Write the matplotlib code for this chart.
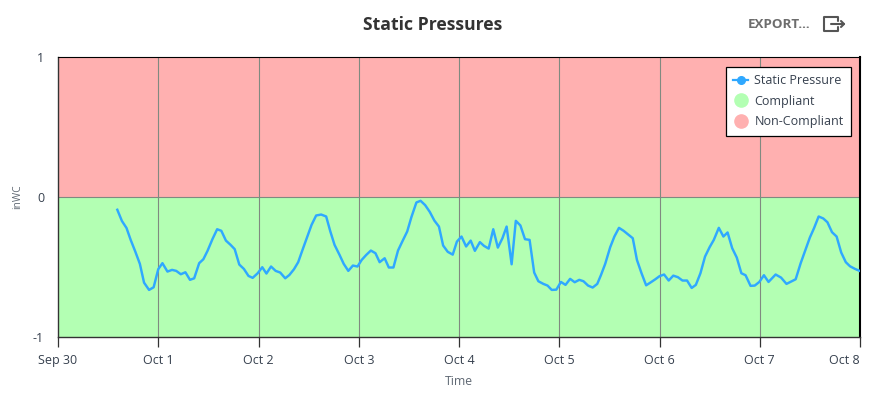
import matplotlib
matplotlib.use("Agg")
import matplotlib.pyplot as plt
from matplotlib.lines import Line2D

W, H = 873, 394
plt.rcParams['font.family'] = ['Open Sans', 'DejaVu Sans']

day_labels = ['Sep 30', 'Oct 1', 'Oct 2', 'Oct 3', 'Oct 4', 'Oct 5', 'Oct 6', 'Oct 7', 'Oct 8']
day_hours = [0, 24, 48, 72, 96, 120, 144, 168, 192]
y_ticks = [-1, 0, 1]
compliant_band = [-1, 0]
noncompliant_band = [0, 1]

hours = [14.2, 15.3, 16.4, 17.4, 18.5, 19.6, 20.6, 21.8, 22.9, 24, 25, 26.2, 27.3, 28.3, 29.4, 30.5,
         31.6, 32.6, 33.8, 34.8, 35.8, 37, 38.1, 39.1, 40.2, 41.3, 42.3, 43.4, 44.5, 45.6, 46.6, 47.8,
         48.9, 49.9, 51, 52.1, 53.2, 54.4, 55.4, 56.5, 57.5, 58.6, 59.7, 60.7, 61.8, 63,
         64.2, 65.2, 66.2, 67.4, 68.4, 69.5, 70.6, 71.7, 72.7, 73.8, 74.9, 76, 77, 78.2, 79.2, 80.3,
         81.4, 82.5, 83.6, 84.6, 85.8, 86.8, 87.9, 89, 90.1, 91.2, 92.2, 93.3, 94.5, 95.5, 96.6, 97.7,
         98.8, 99.8, 101, 102, 103.1, 104.2, 105.3, 106.4, 107.4, 108.6, 109.6, 110.7, 111.8, 112.9,
         114, 115, 116.2, 117.2, 118.2, 119.3, 120.4, 121.5, 122.6, 123.7, 124.8, 125.8, 126.9, 128,
         129.1, 130, 131, 132.2, 133.2, 134.3, 135.4, 136.5, 137.6, 138.6, 139.7, 140.8, 141.8, 143,
         144, 145.1, 146.2, 147.3, 148.4, 149.5, 150.6, 151.7, 152.7, 153.8, 154.9, 156, 157, 158.2,
         159.3, 160.3, 161.4, 162.5, 163.6, 164.6, 165.8, 166.8, 167.9, 169, 170.1, 171.8, 173.1,
         174.4, 176.6, 177.8, 178.8, 180, 181, 182.1, 183.2, 184.2, 185.3, 186.4, 187.5, 188.6, 189.6,
         190.8, 191.9]
static_pressure = [-0.09, -0.17, -0.22, -0.305, -0.388, -0.476, -0.61, -0.662, -0.643, -0.514, -0.471,
                   -0.531, -0.519, -0.526, -0.55, -0.536, -0.59, -0.579, -0.471, -0.443, -0.383, -0.298,
                   -0.229, -0.24, -0.31, -0.34, -0.371, -0.481, -0.512, -0.562, -0.576, -0.543, -0.5,
                   -0.545, -0.495, -0.526, -0.538, -0.579, -0.555, -0.514, -0.464, -0.371, -0.281, -0.198,
                   -0.131, -0.124,
                   -0.138, -0.245, -0.34, -0.412, -0.476, -0.526, -0.488, -0.495, -0.448, -0.412, -0.381,
                   -0.4, -0.464, -0.436, -0.502, -0.502, -0.381, -0.312, -0.245, -0.143, -0.038, -0.026,
                   -0.057, -0.105, -0.167, -0.21, -0.345, -0.39, -0.41, -0.317, -0.281, -0.352, -0.31,
                   -0.383, -0.321, -0.348, -0.367, -0.229, -0.36, -0.293, -0.21, -0.479, -0.169, -0.202,
                   -0.3, -0.305, -0.538, -0.6, -0.619, -0.631, -0.662, -0.66, -0.605, -0.626, -0.583,
                   -0.607, -0.59, -0.6, -0.631, -0.645, -0.619, -0.555,
                   -0.476, -0.357, -0.281, -0.219, -0.24, -0.267, -0.293, -0.448, -0.543, -0.629, -0.61,
                   -0.586, -0.564, -0.552, -0.595, -0.56, -0.571, -0.595, -0.595, -0.648, -0.626, -0.543,
                   -0.424, -0.357, -0.305, -0.219, -0.281, -0.252, -0.364, -0.431, -0.543, -0.557, -0.633,
                   -0.631, -0.605, -0.557, -0.605, -0.552, -0.574, -0.619, -0.586, -0.471, -0.388, -0.288,
                   -0.221, -0.138, -0.152, -0.179, -0.25, -0.281, -0.395, -0.464, -0.493, -0.512, -0.526]

TXT = '#36404e'
BLUE = '#2fa8ff'
GREEN = '#b3ffb3'
RED = '#ffb0b0'
GRID = '#808a80'

fig = plt.figure(figsize=(W / 100, H / 100), dpi=100, facecolor='white')
ax = fig.add_axes([58 / W, 1 - 337.3 / H, 802 / W, 280.3 / H])
ax.set_xlim(day_hours[0], day_hours[-1])
ax.set_ylim(-1, 1)
ax.axhspan(*compliant_band, color=GREEN, lw=0, zorder=0)
ax.axhspan(*noncompliant_band, color=RED, lw=0, zorder=0)
ax.axhline(0, color=GRID, lw=0.8, zorder=1)
for h in day_hours[1:-1]:
    ax.axvline(h, color=GRID, lw=0.8, zorder=1)
ax.plot(hours, static_pressure, color=BLUE, lw=1.75, zorder=3, solid_joinstyle='round')

ax.set_xticks(day_hours)
ax.set_xticklabels(day_labels, fontsize=9, color=TXT)
ax.get_xticklabels()[-1].set_ha('right')
ax.tick_params(axis='x', length=7, width=0.9, color='#333333', pad=5.2)
ax.set_yticks(y_ticks)
ax.set_yticklabels([str(v) for v in y_ticks], fontsize=9, color=TXT)
ax.tick_params(axis='y', length=0, pad=10)
for s in ('left', 'bottom'):
    ax.spines[s].set_color('#333333')
    ax.spines[s].set_linewidth(1.0)
ax.spines['top'].set_color('black')
ax.spines['top'].set_linewidth(0.8)
ax.spines['right'].set_color('black')
ax.spines['right'].set_linewidth(1.5)

fig.text(433 / W, 1 - 25.5 / H, 'Static Pressures', fontsize=12.7, fontweight='bold',
         color='#333333', ha='center', va='center')
fig.text(459 / W, 1 - 381.5 / H, 'Time', fontsize=8.8, color='#5f6873', ha='center', va='center')
fig.text(17.5 / W, 1 - 197 / H, 'inWC', fontsize=7.3, color='#5f6873', rotation=90, ha='center', va='center')
fig.text(779 / W, 1 - 24 / H, 'EXPORT...', fontsize=9.6, fontweight='bold', color='#6d6d6d', ha='center', va='center')

# export icon
icon = '#555555'
def px_line(xs, ys, lw=1.5):
    fig.add_artist(Line2D([x / W for x in xs], [1 - y / H for y in ys], color=icon, lw=lw,
                          solid_capstyle='round', solid_joinstyle='round'))
px_line([838, 838, 824, 824, 838, 838], [21, 17, 17, 31, 31, 27])
px_line([831, 844], [24, 24])
px_line([841, 844, 841], [21, 24, 27])

handles = [
    Line2D([], [], color=BLUE, lw=1.6, marker='o', markersize=5.5, markerfacecolor=BLUE, markeredgecolor=BLUE),
    Line2D([], [], lw=0, marker='o', markersize=9.5, markerfacecolor=GREEN, markeredgecolor=GREEN),
    Line2D([], [], lw=0, marker='o', markersize=9.5, markerfacecolor=RED, markeredgecolor=RED),
]
leg = ax.legend(handles, ['Static Pressure', 'Compliant', 'Non-Compliant'], loc='upper left',
                bbox_to_anchor=((725.5 - 58) / 802, (337.3 - 66.5) / 280.3), borderaxespad=0,
                fontsize=9, frameon=True, fancybox=False, framealpha=1, edgecolor='black',
                labelcolor=TXT, handlelength=1.2, handletextpad=0.5, labelspacing=0.6,
                borderpad=0.6)
leg.get_frame().set_linewidth(0.9)
leg.set_zorder(5)

fig.savefig('out.png', dpi=100)
